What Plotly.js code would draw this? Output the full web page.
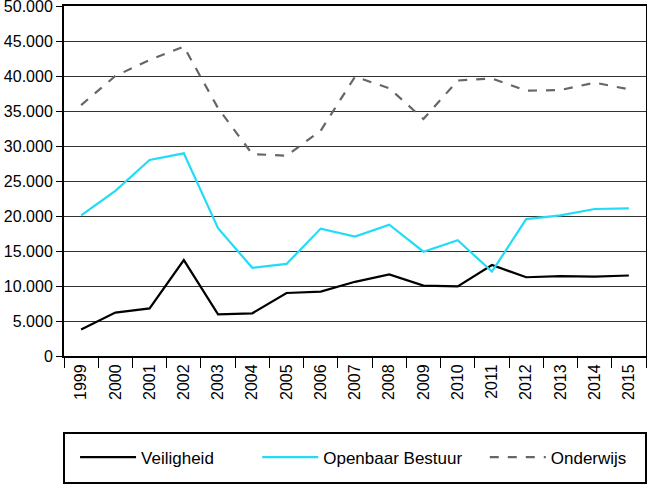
<!DOCTYPE html>
<html>
<head>
<meta charset="utf-8">
<script src="https://cdn.plot.ly/plotly-3.0.1.min.js"></script>
<style>
  html, body { margin: 0; padding: 0; background: white; }
  #chart { width: 647px; height: 485px; }
</style>
</head>
<body>
<div id="chart"></div>
<script>
  // values
  const years = ["1999", "2000", "2001", "2002", "2003", "2004", "2005", "2006", "2007",
    "2008", "2009", "2010", "2011", "2012", "2013", "2014", "2015"];
  const veiligheid = [3800, 6200, 6800, 13700, 5950, 6100, 9000, 9200, 10600,
    11650, 10050, 9950, 13000, 11250, 11400, 11350, 11500];
  const openbaarBestuur = [20100, 23600, 28000, 28950, 18250, 12600, 13150, 18200, 17050,
    18750, 14900, 16550, 12050, 19550, 20100, 21000, 21100];
  const onderwijs = [35850, 40000, 42300, 44200, 35400, 28850, 28600, 32200, 39900,
    38250, 33850, 39350, 39650, 37900, 38000, 39050, 38100];
  const yTicks = [0, 5000, 10000, 15000, 20000, 25000, 30000, 35000, 40000, 45000, 50000];

  const font = "Liberation Sans, Arial, sans-serif";

  function line(name, y, color, dash, legend) {
    return {
      type: "scatter",
      mode: "lines",
      x: years,
      y,
      name,
      legend,
      line: { color, width: 2.2, dash }
    };
  }

  const traces = [
    line("Veiligheid", veiligheid, "#000000", "solid", "legend"),
    line("Openbaar Bestuur", openbaarBestuur, "#22dcf7", "solid", "legend2"),
    line("Onderwijs", onderwijs, "#666666", "dash", "legend3")
  ];

  function legendAt(x) {
    return {
      orientation: "h",
      x,
      xanchor: "left",
      y: -0.29,
      yanchor: "middle",
      itemwidth: 56,
      font: { family: font, size: 17 },
      bgcolor: "rgba(0,0,0,0)"
    };
  }

  const layout = {
    width: 647,
    height: 485,
    margin: { l: 64, r: 1, t: 6, b: 129 },
    paper_bgcolor: "white",
    plot_bgcolor: "white",
    separators: ",.",
    font: { family: font, size: 16, color: "#000" },
    showlegend: true,
    xaxis: {
      type: "category",
      range: [-0.5, 16.5],
      tickson: "boundaries",
      ticks: "outside",
      ticklen: 10,
      tickcolor: "#000",
      tickangle: -90,
      showgrid: false,
      showline: true,
      linecolor: "#000",
      linewidth: 2,
      mirror: true,
      tickfont: { family: font, size: 16 }
    },
    yaxis: {
      range: [0, 50000],
      tickmode: "array",
      tickvals: yTicks,
      tickformat: ",d",
      ticks: "outside",
      ticklen: 6,
      tickcolor: "#000",
      ticklabeloverflow: "allow",
      showgrid: true,
      gridcolor: "#333333",
      gridwidth: 1,
      zeroline: false,
      showline: true,
      linecolor: "#000",
      linewidth: 2,
      mirror: true,
      tickfont: { family: font, size: 16 }
    },
    legend: legendAt(0.019),
    legend2: legendAt(0.332),
    legend3: legendAt(0.723),
    shapes: [{
      type: "rect",
      xref: "paper",
      yref: "paper",
      x0: 0,
      x1: 1,
      y0: -0.363,
      y1: -0.22,
      line: { color: "#000", width: 2 },
      fillcolor: "rgba(0,0,0,0)"
    }]
  };

  Plotly.newPlot("chart", traces, layout, { displayModeBar: false, staticPlot: true });
</script>
</body>
</html>
